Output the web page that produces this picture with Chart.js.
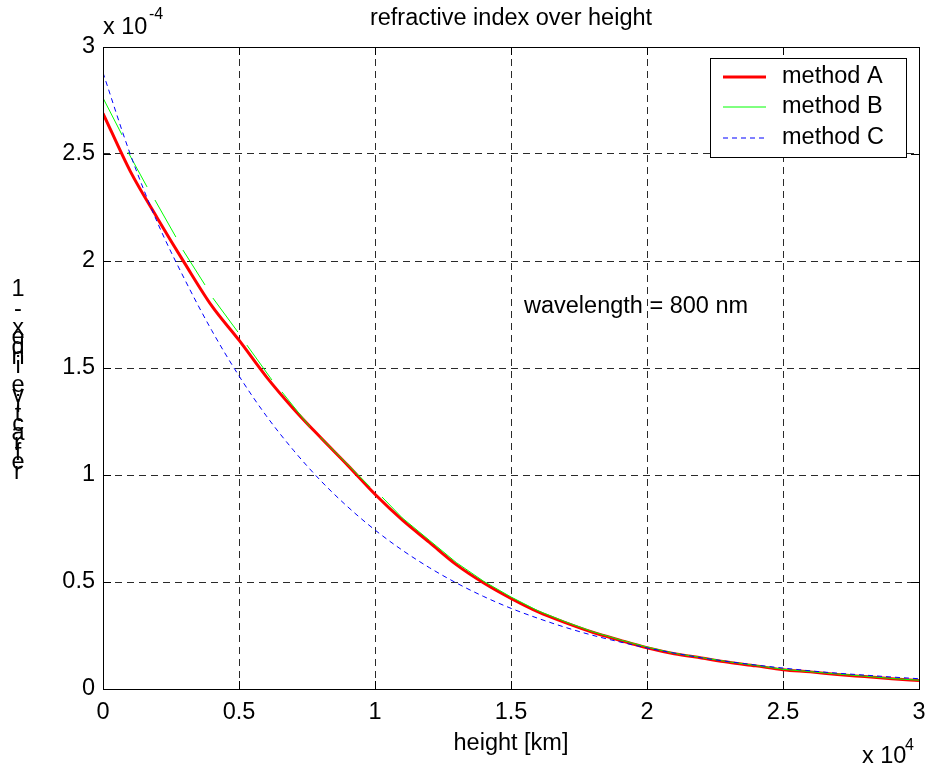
<!DOCTYPE html>
<html>
<head>
<meta charset="utf-8">
<script src="https://cdn.jsdelivr.net/npm/chart.js@4"></script>
<style>
html,body{margin:0;padding:0;background:#fff;}
#wrap{width:927px;height:769px;}
</style>
</head>
<body>
<div id="wrap"><canvas id="c" width="927" height="769"></canvas></div>
<script>
// ---- data (x: height in km, y: 1 - refractive index in units of 1e-4) ----
const heightKm = [0,1000,2000,3000,4000,5000,6000,7000,8000,9000,10000,11000,12000,13000,14000,15000,16000,17000,18000,19000,20000,21000,22000,23000,24000,25000,26000,27000,28000,29000,30000];
const methodA = [2.69,2.42,2.20,1.99,1.79,1.63,1.46,1.31,1.175,1.045,0.91,0.79,0.685,0.58,0.495,0.423,0.36,0.31,0.265,0.228,0.193,0.165,0.145,0.125,0.108,0.09,0.08,0.068,0.058,0.048,0.04];
const methodC = [2.88,2.50,2.18,1.915,1.675,1.463,1.277,1.116,0.974,0.851,0.743,0.649,0.567,0.495,0.432,0.377,0.330,0.288,0.251,0.220,0.192,0.168,0.146,0.128,0.112,0.098,0.085,0.074,0.065,0.056,0.048];
const heightKmB = [0,700,800,920,1620,1700,1910,2680,2800,2940,3750,3900,4040,4960,5100,5290,6210,6400,6580,7610,7800,7980,9820,10000,10260,11000,12000,13000,14000,15000,16000,17000,18000,19000,20000,21000,22000,23000,24000,25000,26000,27000,28000,29000,30000];
const methodB = [2.762,2.589,null,2.509,2.346,null,2.285,2.112,null,2.051,1.888,null,1.827,1.668,null,1.607,1.444,null,1.388,1.224,null,1.178,0.944,null,0.897,0.80,0.695,0.59,0.503,0.43,0.365,0.314,0.268,0.23,0.196,0.167,0.147,0.127,0.11,0.092,0.081,0.07,0.06,0.049,0.041];
const seriesNames = ["method A","method B","method C"];
const xTicks = [0,5000,10000,15000,20000,25000,30000];
const xTickLabels = ["0","0.5","1","1.5","2","2.5","3"];
const yTicks = [0,0.5,1,1.5,2,2.5,3];
const yTickLabels = ["0","0.5","1","1.5","2","2.5","3"];
const titleText = "refractive index over height";
const xLabelText = "height [km]";
const yLabelText = "1 - xedni evitcarfer";
const noteText = "wavelength = 800 nm";

const FONT = '"Liberation Sans", Arial, sans-serif';
const FS = 23.5;

function pts(xs, ys){ return xs.map((x,i)=>({x:x, y:ys[i]})); }

const frame = {
  id:'frame',
  beforeDraw(chart){
    const ctx = chart.ctx;
    ctx.save(); ctx.fillStyle='#fff'; ctx.fillRect(0,0,chart.width,chart.height); ctx.restore();
  },
  afterDraw(chart){
    const ctx = chart.ctx, a = chart.chartArea;
    const xs = chart.scales.x, ys = chart.scales.y;
    ctx.save();
    // box
    ctx.strokeStyle='#000'; ctx.lineWidth=1; ctx.setLineDash([]);
    ctx.strokeRect(Math.round(a.left)+0.5, Math.round(a.top)+0.5, Math.round(a.right-a.left), Math.round(a.bottom-a.top));
    // inward ticks
    const tl = 8;
    ctx.beginPath();
    xTicks.forEach(v=>{
      const px = Math.round(xs.getPixelForValue(v))+0.5;
      ctx.moveTo(px,a.bottom); ctx.lineTo(px,a.bottom-tl);
      ctx.moveTo(px,a.top); ctx.lineTo(px,a.top+tl);
    });
    yTicks.forEach(v=>{
      const py = Math.round(ys.getPixelForValue(v))+0.5;
      ctx.moveTo(a.left,py); ctx.lineTo(a.left+tl,py);
      ctx.moveTo(a.right,py); ctx.lineTo(a.right-tl,py);
    });
    ctx.stroke();

    ctx.fillStyle='#000';
    // title
    ctx.font = FS+'px '+FONT; ctx.textAlign='center'; ctx.textBaseline='alphabetic';
    ctx.fillText(titleText, (a.left+a.right)/2, 25);
    // x label
    ctx.fillText(xLabelText, (a.left+a.right)/2, 750);
    // multipliers
    ctx.textAlign='left';
    ctx.fillText('x 10', a.left, 34);
    ctx.font = '16px '+FONT;
    ctx.fillText('-4', a.left+46, 19);
    ctx.font = FS+'px '+FONT;
    ctx.fillText('x 10', 862, 763);
    ctx.font = '16px '+FONT;
    ctx.fillText('4', 905, 750);
    // note
    ctx.font = FS+'px '+FONT; ctx.textBaseline='middle';
    ctx.fillText(noteText, 524, 307);
    // y label (stacked chars)
    ctx.textAlign='center'; ctx.textBaseline='middle';
    for(let i=0;i<yLabelText.length;i++){
      ctx.fillText(yLabelText[i], 18, 290 + i*9.6);
    }
    // legend
    const lx=710, ly=58, lw=196, lh=99;
    ctx.fillStyle='#fff'; ctx.fillRect(lx,ly,lw,lh);
    ctx.strokeStyle='#000'; ctx.lineWidth=1; ctx.strokeRect(lx+0.5,ly+0.5,lw,lh);
    const ds = chart.data.datasets;
    const rowsY=[77,107,138];
    [0,1,2].forEach(i=>{
      const d = ds[i];
      ctx.strokeStyle=d.borderColor; ctx.lineWidth=d.borderWidth;
      ctx.setLineDash(d.borderDash||[]);
      ctx.beginPath(); ctx.moveTo(723,rowsY[i]); ctx.lineTo(766,rowsY[i]); ctx.stroke();
      ctx.setLineDash([]);
      ctx.fillStyle='#000'; ctx.textAlign='left'; ctx.textBaseline='middle';
      ctx.font = FS+'px '+FONT;
      ctx.fillText(seriesNames[i], 782, rowsY[i]);
    });
    ctx.restore();
  }
};

new Chart(document.getElementById('c'), {
  type:'line',
  data:{
    datasets:[
      {label:seriesNames[0], data:pts(heightKm,methodA), borderColor:'#ff0000', borderWidth:3, pointRadius:0, cubicInterpolationMode:'monotone', order:3},
      {label:seriesNames[1], data:pts(heightKmB,methodB), borderColor:'#00ff00', borderWidth:1, pointRadius:0, tension:0, spanGaps:false, order:2},
      {label:seriesNames[2], data:pts(heightKm,methodC), borderColor:'#0000ff', borderWidth:1, borderDash:[5,4], pointRadius:0, cubicInterpolationMode:'monotone', order:1}
    ]
  },
  options:{
    responsive:false, animation:false, devicePixelRatio:1,
    layout:{padding:{top:47,right:8,left:0,bottom:0}},
    plugins:{legend:{display:false}, title:{display:false}, tooltip:{enabled:false}},
    scales:{
      x:{type:'linear', min:0, max:30000,
        afterBuildTicks(s){ s.ticks = xTicks.map(v=>({value:v})); },
        afterFit(s){ s.height = 80; s.paddingLeft = 0; s.paddingRight = 0; },
        grid:{color:'#2a2a2a', lineWidth:1, drawTicks:false},
        border:{display:false, dash:[7,5]},
        ticks:{color:'#000', padding:9, maxRotation:0, font:{family:FONT, size:FS},
          callback:(v)=>{ const i=xTicks.indexOf(v); return i>=0?xTickLabels[i]:''; }}
      },
      y:{type:'linear', min:0, max:3,
        afterBuildTicks(s){ s.ticks = yTicks.map(v=>({value:v})); },
        afterFit(s){ s.width = 103; s.paddingTop = 0; s.paddingBottom = 0; },
        grid:{color:'#2a2a2a', lineWidth:1, drawTicks:false},
        border:{display:false, dash:[7,5]},
        ticks:{color:'#000', padding:8, font:{family:FONT, size:FS},
          callback:(v)=>{ const i=yTicks.indexOf(v); return i>=0?yTickLabels[i]:''; }}
      }
    }
  },
  plugins:[frame]
});
</script>
</body>
</html>
